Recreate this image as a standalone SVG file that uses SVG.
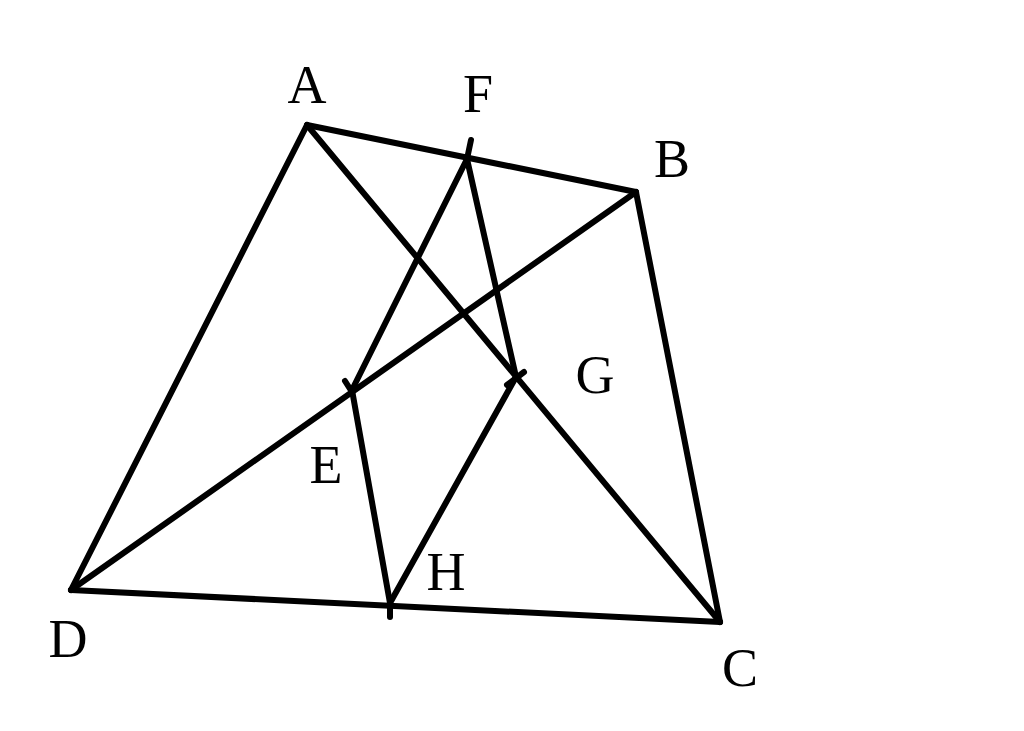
<svg xmlns="http://www.w3.org/2000/svg" width="1024" height="731" viewBox="0 0 1024 731">
<style>
.ln{stroke:#000;stroke-width:6;stroke-linecap:round;stroke-linejoin:round;fill:none}
.lb{font-family:"Liberation Serif","Times New Roman",serif;font-size:54px;fill:#000;text-anchor:middle}
</style>
<rect width="1024" height="731" fill="#fff"/>
<g id="connectors">
<line class="ln" x1="307" y1="125" x2="636" y2="192"/>
<line class="ln" x1="636" y1="192" x2="720" y2="622"/>
<line class="ln" x1="720" y1="622" x2="71" y2="590"/>
<line class="ln" x1="71" y1="590" x2="307" y2="125"/>
<line class="ln" x1="307" y1="125" x2="720" y2="622"/>
<line class="ln" x1="636" y1="192" x2="71" y2="590"/>
<line class="ln" x1="467" y1="159" x2="352" y2="390"/>
<line class="ln" x1="467" y1="159" x2="516" y2="377"/>
<line class="ln" x1="352" y1="390" x2="390" y2="603"/>
<line class="ln" x1="516" y1="377" x2="390" y2="603"/>
<line class="ln" x1="467" y1="159" x2="471" y2="140"/>
<line class="ln" x1="345" y1="381" x2="352" y2="392"/>
<line class="ln" x1="390" y1="603" x2="390" y2="617"/>
<line class="ln" x1="507" y1="385" x2="524" y2="372"/>
</g>
<g id="A"><text class="lb" x="307" y="103">A</text></g>
<g id="F"><text class="lb" x="478" y="112">F</text></g>
<g id="B"><text class="lb" x="672" y="177">B</text></g>
<g id="G"><text class="lb" x="595" y="393">G</text></g>
<g id="E"><text class="lb" x="326" y="483">E</text></g>
<g id="H"><text class="lb" x="446" y="590">H</text></g>
<g id="D"><text class="lb" x="68" y="657">D</text></g>
<g id="C"><text class="lb" x="740" y="686">C</text></g>
</svg>
